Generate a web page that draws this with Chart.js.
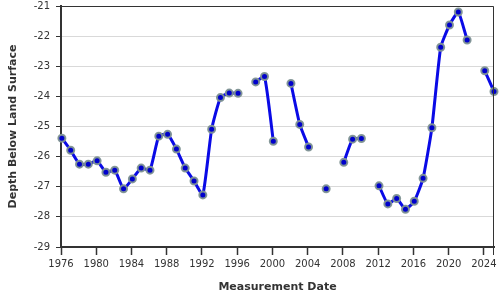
<!DOCTYPE html>
<html>
<head>
<meta charset="utf-8">
<script src="https://cdn.jsdelivr.net/npm/chart.js@4"></script>
<style>
  html, body { margin: 0; padding: 0; background: #fff; }
  #wrap { width: 500px; height: 300px; }
</style>
</head>
<body>
<div id="wrap"><canvas id="myChart" width="500" height="300"></canvas></div>
<script>
// measurement dates (decimal years) and depth below land surface (ft)
// null = no measurement that year, so the line breaks there
var dates = [1976.1, 1977.1, 1978.1, 1979.1, 1980.1, 1981.1, 1982.1, 1983.1, 1984.1, 1985.1,
             1986.1, 1987.1, 1988.1, 1989.1, 1990.1, 1991.1, 1992.1, 1993.1, 1994.1, 1995.1,
             1996.1, 1997.1, 1998.1, 1999.1, 2000.1, 2001.1, 2002.1, 2003.1, 2004.1, 2005.1,
             2006.1, 2007.1, 2008.1, 2009.1, 2010.1, 2011.1, 2012.1, 2013.1, 2014.1, 2015.1,
             2016.1, 2017.1, 2018.1, 2019.1, 2020.1, 2021.1, 2022.1, 2023.1, 2024.1, 2025.15];
var depths = [-25.39, -25.79, -26.25, -26.25, -26.14, -26.52, -26.45, -27.07, -26.74, -26.38,
              -26.45, -25.32, -25.26, -25.75, -26.38, -26.81, -27.27, -25.09, -24.04, -23.89,
              -23.90, null, -23.52, -23.34, -25.49, null, -23.57, -24.93, -25.68, null,
              -27.07, null, -26.19, -25.42, -25.40, null, -26.97, -27.57, -27.39, -27.75,
              -27.48, -26.72, -25.04, -22.37, -21.63, -21.20, -22.13, null, -23.15, -23.84];
var xTicks = [1976, 1980, 1984, 1988, 1992, 1996, 2000, 2004, 2008, 2012, 2016, 2020, 2024];
var yTicks = [-21, -22, -23, -24, -25, -26, -27, -28, -29];

var ctx = document.getElementById('myChart');

var points = [];
for (var i = 0; i < dates.length; i++) {
    points.push({x: dates[i], y: depths[i]});
}

// thin frame on top and right of the plot
var frame = {
    id: 'frame',
    afterDraw: function(chart){
        var a = chart.chartArea;
        var c = chart.ctx;
        c.save();
        c.strokeStyle = '#333';
        c.lineWidth = 1;
        c.beginPath();
        c.moveTo(a.left, a.top + 0.5);
        c.lineTo(a.right - 0.5, a.top + 0.5);
        c.lineTo(a.right - 0.5, a.bottom + 8);
        c.stroke();
        c.restore();
    }
};

var myChart = new Chart(ctx, {
    type: 'line',
    data: {
        datasets: [{
            data: points,
            borderColor: '#0a0ae6',
            borderWidth: 3,
            tension: 0.15,
            spanGaps: false,
            pointRadius: 3.5,
            pointBorderWidth: 2,
            pointBackgroundColor: '#0000cc',
            pointBorderColor: 'rgba(128,148,148,0.95)',
            clip: false
        }]
    },
    options: {
        responsive: false,
        animation: false,
        layout: { padding: 0 },
        plugins: {
            legend: { display: false },
            tooltip: { enabled: false }
        },
        scales: {
            x: {
                type: 'linear',
                min: 1976,
                max: dates[dates.length - 1],
                afterBuildTicks: function(scale){
                    scale.ticks = xTicks.map(function(v){ return {value: v}; });
                },
                afterFit: function(scale){
                    scale.height = 53;
                    scale.paddingLeft = 0;
                    scale.paddingRight = 5;
                },
                ticks: {
                    autoSkip: false,
                    maxRotation: 0,
                    padding: 3,
                    color: '#333',
                    font: { family: 'DejaVu Sans', size: 10 },
                    callback: function(v){ return String(v); }
                },
                grid: {
                    drawOnChartArea: false,
                    tickLength: 8,
                    tickColor: '#333',
                    tickWidth: 1.5
                },
                border: { color: '#333', width: 2 },
                title: {
                    display: true,
                    text: 'Measurement Date',
                    color: '#333',
                    font: { family: 'DejaVu Sans', size: 11, weight: 'bold' },
                    padding: { top: 0, bottom: 6 }
                }
            },
            y: {
                min: -29,
                max: -21,
                afterBuildTicks: function(scale){
                    scale.ticks = yTicks.map(function(v){ return {value: v}; });
                },
                afterFit: function(scale){
                    scale.width = 61;
                    scale.paddingTop = 4;
                    scale.paddingBottom = 0;
                },
                ticks: {
                    padding: 6,
                    color: '#333',
                    font: { family: 'DejaVu Sans', size: 10 }
                },
                grid: {
                    color: '#d9d9d9',
                    lineWidth: 1,
                    tickLength: 5,
                    tickColor: '#333'
                },
                border: { color: '#333', width: 2 },
                title: {
                    display: true,
                    text: 'Depth Below Land Surface',
                    color: '#333',
                    font: { family: 'DejaVu Sans', size: 11, weight: 'bold' },
                    padding: { top: 7, bottom: 0 }
                }
            }
        }
    },
    plugins: [frame]
});
</script>
</body>
</html>
